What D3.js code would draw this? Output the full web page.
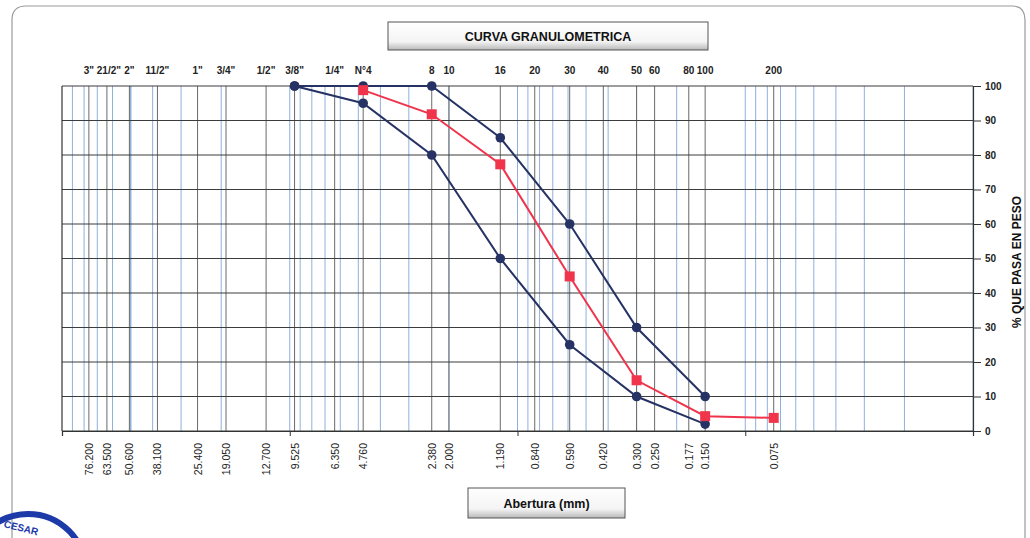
<!DOCTYPE html>
<html>
<head>
<meta charset="utf-8">
<script src="https://cdn.jsdelivr.net/npm/d3@7"></script>
<style>
  body { margin: 0; background: #fff; }
  svg { font-family: "Liberation Sans", Arial, sans-serif; }
</style>
</head>
<body>
<div id="chart"></div>
<script>
// sieve openings (mm), names and printed labels
const sieveMm = [76.2, 63.5, 50.6, 38.1, 25.4, 19.05, 12.7, 9.525, 6.35, 4.76, 2.38, 2.0, 1.19, 0.84, 0.59, 0.42, 0.30, 0.25, 0.177, 0.150, 0.075];
const sieveNames = ['3"', '21/2"', '2"', '11/2"', '1"', '3/4"', '1/2"', '3/8"', '1/4"', 'N°4', '8', '10', '16', '20', '30', '40', '50', '60', '80', '100', '200'];
const sieveLabels = ['76.200', '63.500', '50.600', '38.100', '25.400', '19.050', '12.700', '9.525', '6.350', '4.760', '2.380', '2.000', '1.190', '0.840', '0.590', '0.420', '0.300', '0.250', '0.177', '0.150', '0.075'];

// upper / lower spec limits and sample
const upperMm = [9.525, 4.76, 2.38, 1.19, 0.59, 0.30, 0.15];
const upperPct = [100, 100, 100, 85, 60, 30, 10];
const lowerMm = [9.525, 4.76, 2.38, 1.19, 0.59, 0.30, 0.15];
const lowerPct = [100, 95, 80, 50, 25, 10, 2];
const sampleMm = [4.76, 2.38, 1.19, 0.59, 0.30, 0.15, 0.075];
const samplePct = [98.8, 91.8, 77.3, 44.8, 14.7, 4.3, 3.8];

const yTicks = [0, 10, 20, 30, 40, 50, 60, 70, 80, 90, 100];
const xDecades = [100, 10, 1, 0.1, 0.01];

const W = 1030, H = 538;
const mLeft = 62, mRight = 973, mTop = 86, mBottom = 431;

const svg = d3.select("#chart").append("svg")
  .attr("width", W).attr("height", H);

// outer rounded frame
svg.append("path")
  .attr("d", "M12,560 L12,20 Q12,6 26,6 L1012,6 Q1025,6 1025,20 L1025,560")
  .attr("fill", "none").attr("stroke", "#9a9a9a").attr("stroke-width", 1.2);

const x = d3.scaleLog().domain([100, 0.01]).range([mLeft, mRight]);
const y = d3.scaleLinear().domain([0, 100]).range([mBottom, mTop]);

// minor log gridlines (blue)
const minor = [];
[10, 1, 0.1, 0.01].forEach(d => { for (let k = 1; k <= 9; k++) minor.push(d * k); });
svg.append("g").selectAll("line").data(minor.filter(v => v <= 100 && v >= 0.01)).enter()
  .append("line")
  .attr("x1", d => x(d)).attr("x2", d => x(d))
  .attr("y1", mTop).attr("y2", mBottom)
  .attr("stroke", "#8fb0de").attr("stroke-width", d => Math.abs(d - 50) < 1e-6 ? 1.8 : 1);

// sieve lines (dark)
svg.append("g").selectAll("line").data(sieveMm).enter()
  .append("line")
  .attr("x1", d => x(d)).attr("x2", d => x(d))
  .attr("y1", mTop).attr("y2", mBottom)
  .attr("stroke", "#6a6a6a").attr("stroke-width", 1);

// horizontal gridlines
svg.append("g").selectAll("line").data(yTicks).enter()
  .append("line")
  .attr("x1", mLeft).attr("x2", mRight)
  .attr("y1", d => y(d)).attr("y2", d => y(d))
  .attr("stroke", "#3c3c3c").attr("stroke-width", 1.1);

// left edge
svg.append("line").attr("x1", mLeft).attr("x2", mLeft).attr("y1", mTop).attr("y2", mBottom)
  .attr("stroke", "#333").attr("stroke-width", 1.2);

// right axis
const yAxis = svg.append("g")
  .attr("transform", `translate(${mRight},0)`)
  .call(d3.axisRight(y).tickValues(yTicks).tickSize(8).tickPadding(4));
yAxis.select(".domain").attr("stroke", "#333").attr("stroke-width", 1.2);
yAxis.selectAll(".tick line").attr("stroke", "#333");
yAxis.selectAll("text").attr("font-size", 10).attr("font-weight", "bold").attr("fill", "#222")
  .attr("font-family", "'Liberation Sans', Arial, sans-serif");

// bottom axis
const xAxis = svg.append("g")
  .attr("transform", `translate(0,${mBottom})`)
  .call(d3.axisBottom(x).tickValues(xDecades).tickSize(5).tickFormat(""));
xAxis.select(".domain").attr("stroke", "#333").attr("stroke-width", 1.2);
xAxis.selectAll(".tick line").attr("stroke", "#333");

// top sieve names
svg.append("g").selectAll("text").data(sieveMm).enter()
  .append("text")
  .attr("x", (d, i) => x(d) + (i === 1 ? 2 : 0))
  .attr("y", 74)
  .attr("text-anchor", "middle")
  .attr("font-size", 10).attr("font-weight", "bold").attr("fill", "#222")
  .text((d, i) => sieveNames[i]);

// bottom opening labels
svg.append("g").selectAll("text").data(sieveMm).enter()
  .append("text")
  .attr("transform", d => `translate(${x(d) + 4},${443}) rotate(-90)`)
  .attr("text-anchor", "end")
  .attr("font-size", 10.5).attr("fill", "#222")
  .text((d, i) => sieveLabels[i]);

// curves
const line = d3.line().x(d => x(d[0])).y(d => y(d[1]));
const navy = "#263264", red = "#f0344c";
const upper = upperMm.map((d, i) => [d, upperPct[i]]);
const lower = lowerMm.map((d, i) => [d, lowerPct[i]]);
const sample = sampleMm.map((d, i) => [d, samplePct[i]]);

[upper, lower].forEach(s => {
  svg.append("path").datum(s).attr("d", line)
    .attr("fill", "none").attr("stroke", navy).attr("stroke-width", 2);
});
svg.append("path").datum(sample).attr("d", line)
  .attr("fill", "none").attr("stroke", red).attr("stroke-width", 2);

[upper, lower].forEach(s => {
  svg.append("g").selectAll("circle").data(s).enter()
    .append("circle")
    .attr("cx", d => x(d[0])).attr("cy", d => y(d[1])).attr("r", 4.8)
    .attr("fill", navy);
});
svg.append("g").selectAll("rect").data(sample).enter()
  .append("rect")
  .attr("x", d => x(d[0]) - 5).attr("y", d => y(d[1]) - 5)
  .attr("width", 10).attr("height", 10)
  .attr("fill", red);

// title box
const defs = svg.append("defs");
const grad = defs.append("linearGradient").attr("id", "boxg").attr("x1", 0).attr("x2", 0).attr("y1", 0).attr("y2", 1);
grad.append("stop").attr("offset", "0%").attr("stop-color", "#ffffff");
grad.append("stop").attr("offset", "70%").attr("stop-color", "#f4f4f4");
grad.append("stop").attr("offset", "100%").attr("stop-color", "#b8b8b8");

function labelBox(x0, y0, w, h, txt, ty) {
  svg.append("rect").attr("x", x0).attr("y", y0).attr("width", w).attr("height", h)
    .attr("fill", "url(#boxg)").attr("stroke", "#555").attr("stroke-width", 1);
  svg.append("text").attr("x", x0 + w / 2).attr("y", ty)
    .attr("text-anchor", "middle").attr("font-size", 12.5).attr("font-weight", "bold").attr("fill", "#111")
    .text(txt);
}
labelBox(388, 22, 320, 28, "CURVA GRANULOMETRICA", 41);
labelBox(468, 488, 157, 30, "Abertura (mm)", 508);

// y axis title
svg.append("text")
  .attr("transform", "translate(1021,262) rotate(-90)")
  .attr("text-anchor", "middle")
  .attr("font-size", 12).attr("font-weight", "bold").attr("fill", "#111")
  .text("% QUE PASA EN PESO");

// stamp fragment bottom-left
svg.append("circle").attr("cx", 28).attr("cy", 572).attr("r", 58)
  .attr("fill", "none").attr("stroke", "#1c3aa8").attr("stroke-width", 6);
svg.append("text").attr("x", 4).attr("y", 531).attr("font-size", 10).attr("font-weight", "bold")
  .attr("fill", "#1c3aa8").attr("transform", "rotate(14,20,526)").text("CESAR");
</script>
</body>
</html>
